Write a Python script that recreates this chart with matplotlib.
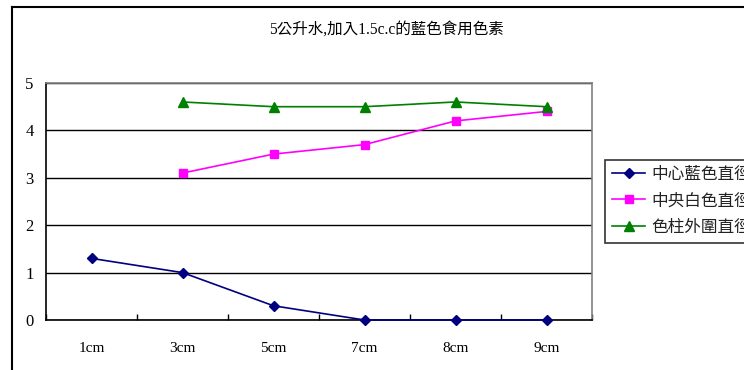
import matplotlib
matplotlib.use("Agg")
import matplotlib.pyplot as plt
import numpy as np
from matplotlib.lines import Line2D

# --------------------
# Data
# --------------------
categories = ["1cm", "3cm", "5cm", "7cm", "8cm", "9cm"]
center_blue = [1.3, 1.0, 0.3, 0.0, 0.0, 0.0]
middle_white = [np.nan, 3.1, 3.5, 3.7, 4.2, 4.4]
outer_ring = [np.nan, 4.6, 4.5, 4.5, 4.6, 4.5]
series_names = ["中心藍色直徑", "中央白色直徑", "色柱外圍直徑"]
title = "5公升水,加入1.5c.c的藍色食用色素"

FONTS = ["Liberation Serif", "Noto Sans CJK TC"]
plt.rcParams["font.family"] = FONTS

# --------------------
# Figure
# --------------------
W, H = 744, 370
fig = plt.figure(figsize=(W / 100, H / 100), dpi=100)
ax = fig.add_axes([46 / W, 1 - 320 / H, 546 / W, 237 / H])

x = np.arange(len(categories))
ax.plot(x, center_blue, color="#000080", marker="D", markersize=5, lw=1.2,
        label=series_names[0], zorder=5, clip_on=False)
ax.plot(x, middle_white, color="#FF00FF", marker="s", markersize=6, lw=1.2,
        label=series_names[1], zorder=5)
ax.plot(x, outer_ring, color="#008000", marker="^", markersize=7, lw=1.2,
        label=series_names[2], zorder=5)

ax.set_xlim(-0.5, len(categories) - 0.5)
ax.set_ylim(0, 5)
ax.set_yticks(range(0, 6))
ax.yaxis.grid(True, color="black", lw=1)
ax.set_axisbelow(True)
ax.tick_params(axis="y", length=0, pad=9, labelsize=12)

ax.set_xticks(x)
ax.set_xticklabels(categories, fontsize=11)
ax.set_xticks(np.arange(-0.5, len(categories)), minor=True)
ax.tick_params(axis="x", which="major", length=0, pad=16)
ax.tick_params(axis="x", which="minor", direction="in", length=4, width=1)

for side in ["left", "bottom"]:
    ax.spines[side].set_color("black")
    ax.spines[side].set_linewidth(1.2)
for side in ["top", "right"]:
    ax.spines[side].set_color("#808080")
    ax.spines[side].set_linewidth(1.2)

fig.text(386 / W, 1 - 30 / H, title, ha="center", va="center", fontsize=11.2)

# legend runs past the right edge, as in the original
leg = fig.legend(loc="upper left", bbox_to_anchor=(605 / W, 1 - 160 / H),
                 fontsize=12, frameon=True, fancybox=False, edgecolor="black",
                 handlelength=2.0, handletextpad=0.35, labelspacing=0.62,
                 borderpad=0.42, borderaxespad=0)
leg.get_frame().set_linewidth(1.2)
for t in leg.get_texts():
    t.set_color("#222222")

# outer chart border (cut off at right and bottom)
fig.add_artist(Line2D([12 / W, 12 / W], [0, 1 - 7 / H], color="black", lw=1.5))
fig.add_artist(Line2D([12 / W, 1], [1 - 7 / H, 1 - 7 / H], color="black", lw=1.5))

fig.savefig("out.png", dpi=100)
